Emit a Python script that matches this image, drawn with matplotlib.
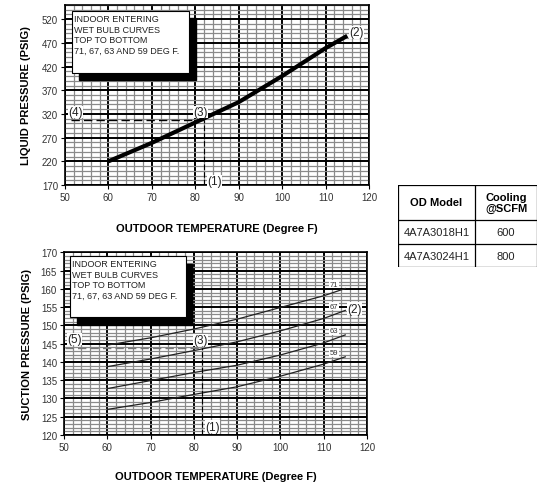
import matplotlib
matplotlib.use("Agg")
import matplotlib.pyplot as plt
import numpy as np

plt.rcParams['font.family'] = ['Liberation Sans', 'DejaVu Sans']

# liquid pressure curve
liq_temp = [60, 70, 80, 90, 100, 110, 115]
liq_psig = [220, 259, 302, 345, 400, 459, 485]

# suction pressure curves, indoor wet bulb 71/67/63/59
suc_temp = [60, 70, 80, 90, 100, 110, 115]
suc_71 = [144.6, 146.6, 149.0, 151.7, 154.9, 158.1, 160.1]
suc_67 = [138.7, 140.8, 143.1, 145.5, 148.5, 151.9, 154.1]
suc_63 = [132.7, 134.9, 137.1, 139.1, 141.9, 145.2, 147.4]
suc_59 = [127.0, 128.9, 131.1, 133.2, 136.1, 139.4, 141.4]
wb_labels = ['71', '67', '63', '59']

od_temp = 82
liq_read = 307
suc_read = 143.7

table_header = ['OD Model', 'Cooling\n@SCFM']
table_rows = [['4A7A3018H1', '600'], ['4A7A3024H1', '800']]

box_text = "INDOOR ENTERING\nWET BULB CURVES\nTOP TO BOTTOM\n71, 67, 63 AND 59 DEG F."

fig = plt.figure(figsize=(5.39, 4.85), dpi=100)

ax1 = fig.add_axes([0.1206, 0.6165, 0.5640, 0.3711])
ax2 = fig.add_axes([0.1187, 0.1010, 0.5620, 0.3767])


def grid_setup(ax, ylo, yhi, ymaj, ymin, ytop, pad):
    ax.set_xlim(50, 120)
    ax.set_ylim(ylo, yhi)
    for x in np.arange(50, 121, 2):
        major = (x % 10 == 0)
        ax.axvline(x, color='black' if major else '#8a8a8a',
                   lw=1.4 if major else 0.9, zorder=1)
    for y in np.arange(ylo, yhi + 0.01, ymin):
        major = abs(((y - ylo) / ymaj) - round((y - ylo) / ymaj)) < 1e-6
        ax.axhline(y, color='black' if major else '#8a8a8a',
                   lw=1.4 if major else 0.9, zorder=1)
    ax.set_xticks(np.arange(50, 121, 10))
    ax.set_yticks(np.arange(ylo, ytop + 0.01, ymaj))
    ax.tick_params(labelsize=7, length=3, width=0.8, colors='black',
                   labelcolor='#333333', pad=2)
    for s in ax.spines.values():
        s.set_linewidth(1.2)
    ax.set_xlabel('OUTDOOR TEMPERATURE (Degree F)', fontsize=8,
                  fontweight='bold', labelpad=pad)


def info_box(ax, x0, x1, y0, y1, dx, dy):
    ax.fill([x0 + dx, x1 + dx, x1 + dx, x0 + dx], [y0 - dy, y0 - dy, y1 - dy, y1 - dy],
            color='black', zorder=4)
    ax.fill([x0, x1, x1, x0], [y0, y0, y1, y1], facecolor='white',
            edgecolor='black', lw=0.8, zorder=5)
    ax.text(x0 + 0.35, y1 - (y1 - y0) * 0.05, box_text, fontsize=6.5,
            va='top', ha='left', linespacing=1.2, color='#222222', zorder=6)


# top chart
grid_setup(ax1, 170, 550, 50, 10, 520, 15)
ax1.set_ylabel('LIQUID PRESSURE (PSIG)', fontsize=8, fontweight='bold', labelpad=8)
ax1.plot(liq_temp, liq_psig, color='black', lw=3, zorder=7, solid_capstyle='butt')
ax1.plot([51.3, od_temp], [liq_read, liq_read], color='black', lw=1,
         ls=(0, (6, 3)), zorder=7)
ax1.plot([od_temp, od_temp], [170, liq_read], color='black', lw=0.8,
         ls=(0, (5, 2)), zorder=7)
info_box(ax1, 51.7, 78.6, 407, 537, 1.6, 15)
lbl = dict(fontsize=8.5, color='#222222', zorder=8, ha='center', va='center',
           bbox=dict(facecolor='white', edgecolor='none', pad=0.2))
ax1.text(52.5, 324, '(4)', **lbl)
ax1.text(81.2, 324, '(3)', **lbl)
ax1.text(117.2, 492, '(2)', **lbl)
ax1.text(84.4, 178, '(1)', **lbl)

# bottom chart
grid_setup(ax2, 120, 170, 5, 1, 170, 14)
ax2.set_ylabel('SUCTION PRESSURE (PSIG)', fontsize=8, fontweight='bold', labelpad=6)
for vals, wb in zip([suc_71, suc_67, suc_63, suc_59], wb_labels):
    ax2.plot(suc_temp, vals, color='#222222', lw=0.9, zorder=7)
    ax2.text(112.4, vals[-1] + 1.2, wb, fontsize=5.5, color='#333333',
             ha='center', va='center', zorder=8,
             bbox=dict(facecolor='white', edgecolor='none', pad=0.6))
ax2.plot([50.3, od_temp], [suc_read, suc_read], color='#777777', lw=1,
         ls=(0, (6, 3)), zorder=7)
ax2.plot([od_temp, od_temp], [120, suc_read], color='black', lw=0.8,
         ls=(0, (5, 2)), zorder=7)
info_box(ax2, 51.5, 78.2, 152.3, 168.9, 1.4, 2.1)
ax2.text(52.5, 146.3, '(5)', **lbl)
ax2.text(81.5, 146.0, '(3)', **lbl)
ax2.text(117.2, 154.6, '(2)', **lbl)
ax2.text(84.4, 122.3, '(1)', **lbl)

# table at the right
tax = fig.add_axes([398 / 539, 1 - 268 / 485, 139 / 539, 82 / 485])
tax.set_xlim(0, 139)
tax.set_ylim(82, 0)
tax.axis('off')
col_x = [0, 77, 139]
row_y = [0, 35, 59, 82]
for y in row_y:
    tax.plot([0, 139], [y, y], color='black', lw=0.9)
for x in col_x:
    tax.plot([x, x], [0, 82], color='black', lw=0.9)
tax.text(38.5, 17.5, table_header[0], ha='center', va='center', fontsize=8,
         fontweight='bold')
tax.text(108, 17.5, table_header[1], ha='center', va='center', fontsize=8,
         fontweight='bold', linespacing=1.0)
for i, row in enumerate(table_rows):
    yc = (row_y[i + 1] + row_y[i + 2]) / 2
    tax.text(38.5, yc, row[0], ha='center', va='center', fontsize=8, color='#222222')
    tax.text(108, yc, row[1], ha='center', va='center', fontsize=8, color='#222222')

fig.savefig('out.png', dpi=100)
